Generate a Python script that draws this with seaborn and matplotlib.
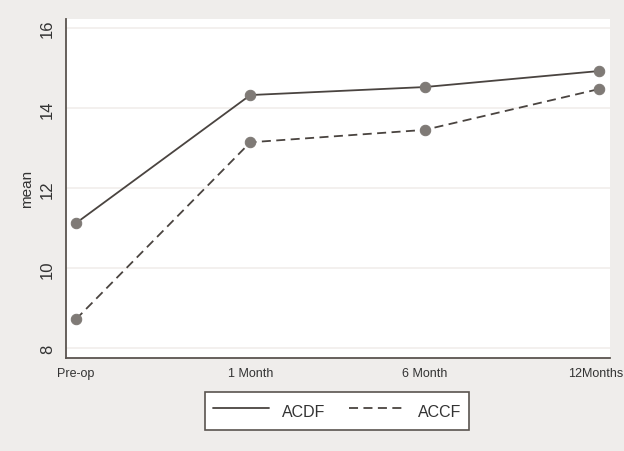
import matplotlib
matplotlib.use('Agg')
import matplotlib.pyplot as plt
import matplotlib.transforms as mtransforms
import pandas as pd
import seaborn as sns
from matplotlib.lines import Line2D

# values
timepoints = ['Pre-op', '1 Month', '6 Month', '12Months']
acdf = [11.13, 14.33, 14.53, 14.93]
accf = [8.73, 13.15, 13.46, 14.48]
groups = ['ACDF', 'ACCF']

df = pd.DataFrame({
    'time': timepoints * 2,
    'mean': acdf + accf,
    'group': ['ACDF'] * 4 + ['ACCF'] * 4,
})

sns.set_style('white')
plt.rcParams['font.family'] = ['Liberation Sans', 'DejaVu Sans']

bg = '#efedeb'
line_col = '#4a4440'
marker_col = '#7f7a76'
spine_col = '#5a544f'

fig = plt.figure(figsize=(6.24, 4.52), dpi=100, facecolor=bg)
ax = fig.add_axes([0.1058, 0.2064, 0.8718, 0.7494])
ax.set_facecolor('white')

sns.lineplot(data=df, x='time', y='mean', style='group', style_order=groups,
             dashes={'ACDF': '', 'ACCF': (5, 3)}, color=line_col, linewidth=1.3,
             marker='o', markersize=7.5, markerfacecolor=marker_col,
             markeredgecolor=marker_col, legend=False, ax=ax, zorder=3)

ax.set_xlim(-0.057, 3.063)
ax.set_ylim(7.77, 16.23)
ax.set_yticks([8, 10, 12, 14, 16])
ax.yaxis.grid(True, color='#f1eeeb', linewidth=1.2)
ax.xaxis.grid(False)

for s in ['top', 'right']:
    ax.spines[s].set_visible(False)
for s in ['left', 'bottom']:
    ax.spines[s].set_color(spine_col)
    ax.spines[s].set_linewidth(1.3)

ax.tick_params(axis='both', direction='out', length=5, width=1.0, color=spine_col,
               labelcolor='#333333')
ax.tick_params(axis='x', labelsize=9, pad=2)
ax.tick_params(axis='y', labelsize=12, pad=3)
for lbl in ax.get_yticklabels():
    lbl.set_rotation(90)
    lbl.set_va('center')

# last x label sits against the right edge, nudge it in a little
last = ax.get_xticklabels()[-1]
last.set_transform(last.get_transform() +
                   mtransforms.ScaledTranslation(-3 / 100, 0, fig.dpi_scale_trans))

ax.set_xlabel('')
ax.set_ylabel('mean', fontsize=11, color='#333333', labelpad=4)

handles = [Line2D([], [], color=line_col, linewidth=1.3),
           Line2D([], [], color=line_col, linewidth=1.3, dashes=(5, 3))]
leg = fig.legend(handles, groups, loc='center', bbox_to_anchor=(0.540, 0.0885),
                 ncol=2, frameon=True, fancybox=False, framealpha=1,
                 edgecolor=spine_col, facecolor='white', fontsize=11.5,
                 handlelength=3.5, columnspacing=1.5, borderpad=0.5,
                 handleheight=1.7, handletextpad=0.8)
leg.get_frame().set_linewidth(1.2)
for t in leg.get_texts():
    t.set_color('#333333')

fig.savefig('out.png', dpi=100, facecolor=bg)
